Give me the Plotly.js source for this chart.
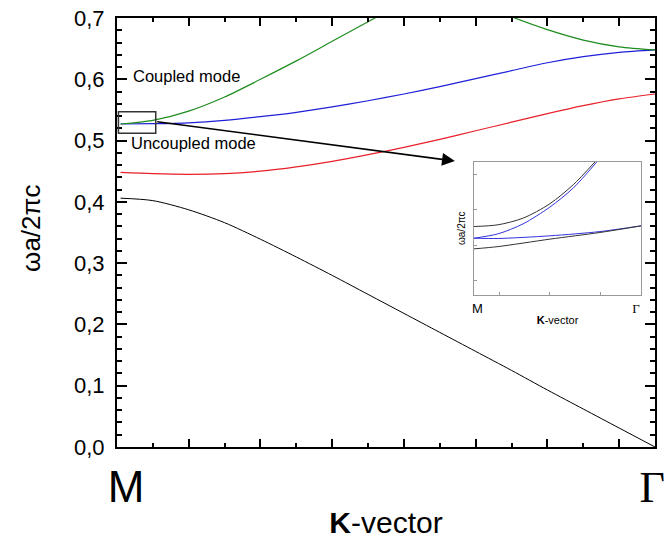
<!DOCTYPE html>
<html>
<head>
<meta charset="utf-8">
<script src="https://cdn.plot.ly/plotly-3.0.1.min.js"></script>
<style>html,body{margin:0;padding:0;background:#fff;}#chart{width:665px;height:542px;}</style>
</head>
<body>
<div id="chart"></div>
<script>
// ---- main band data (K from M=0 to Gamma=15, frequency omega a / 2 pi c) ----
const band1K = [0.1, 1, 2, 3, 4, 5, 6, 7, 8, 9, 10, 11, 12, 13, 14, 15];
const band1W = [0.406, 0.402, 0.387, 0.366, 0.339, 0.310, 0.280, 0.249, 0.218, 0.187, 0.156, 0.125, 0.093, 0.062, 0.031, 0.0];

const redK = [0.1, 1, 2, 3, 4, 5, 6, 7, 8, 9, 10, 11, 12, 13, 14, 15];
const redW = [0.448, 0.446, 0.445, 0.446, 0.450, 0.457, 0.466, 0.477, 0.489, 0.502, 0.516, 0.530, 0.544, 0.557, 0.568, 0.576];

const blueK = [0.1, 1, 2, 3, 4, 5, 6, 7, 8, 9, 10, 11, 12, 13, 14, 15];
const blueW = [0.527, 0.5275, 0.529, 0.533, 0.539, 0.546, 0.555, 0.565, 0.576, 0.588, 0.601, 0.614, 0.627, 0.637, 0.644, 0.648];

const greenK = [0.1, 1, 2, 3, 4, 5, 6, 7, 8, null, 10.5, 11, 12, 13, 14, 15];
const greenW = [0.527, 0.533, 0.548, 0.571, 0.600, 0.630, 0.662, 0.694, 0.726, null, 0.714, 0.702, 0.681, 0.664, 0.653, 0.648];

// ---- inset data (normalised units) ----
const insBlackUpK = [0, 0.144, 0.294, 0.454, 0.594, 0.724];
const insBlackUpW = [0.515, 0.528, 0.578, 0.686, 0.829, 1.0];
const insBlueUpK = [0, 0.144, 0.294, 0.454, 0.594, 0.735];
const insBlueUpW = [0.427, 0.460, 0.535, 0.661, 0.804, 1.0];
const insBlueLowK = [0, 0.144, 0.454, 0.754, 1];
const insBlueLowW = [0.427, 0.425, 0.445, 0.477, 0.52];
const insBlackLowK = [0, 0.144, 0.454, 0.754, 1];
const insBlackLowW = [0.347, 0.364, 0.420, 0.470, 0.52];

// ---- labels ----
const kTickVals = [0.25, 14.92];
const kTickText = ['M', '<span style="font-family:\'Liberation Serif\',serif">Γ</span>'];
const insTickVals = [0.02, 0.97];
const yTitle = 'ωa/2πc';
const xTitle = '<b>K</b>-vector';
const noteCoupled = 'Coupled mode';
const noteUncoupled = 'Uncoupled mode';

const F = 'Liberation Sans, Arial, sans-serif';

function line(x, y, color, w, xa, ya) {
  return {x: x, y: y, type: 'scatter', mode: 'lines', xaxis: xa || 'x', yaxis: ya || 'y',
    line: {color: color, width: w, shape: 'spline', smoothing: 0.8}, hoverinfo: 'skip', showlegend: false, connectgaps: false};
}

const traces = [
  line(band1K, band1W, '#000000', 1),
  line(redK, redW, '#e8202a', 1.2),
  line(blueK, blueW, '#1f1fd8', 1.2),
  line(greenK, greenW, '#1e8c1e', 1.2),
  line(insBlackUpK, insBlackUpW, '#333333', 1, 'x2', 'y2'),
  line(insBlueUpK, insBlueUpW, '#3333dd', 1, 'x2', 'y2'),
  line(insBlueLowK, insBlueLowW, '#3333dd', 1, 'x2', 'y2'),
  line(insBlackLowK, insBlackLowW, '#333333', 1, 'x2', 'y2'),
  {x: [], y: [], type: 'scatter', xaxis: 'x3', yaxis: 'y', showlegend: false, hoverinfo: 'skip'}
];

const layout = {
  width: 665, height: 542,
  margin: {l: 117, r: 10, t: 18, b: 95},
  paper_bgcolor: '#fff', plot_bgcolor: '#fff',
  separators: ', ',
  font: {family: F, color: '#000'},
  showlegend: false,
  xaxis: {
    range: [0, 15], tickmode: 'linear', tick0: 0, dtick: 2,
    ticks: 'inside', ticklen: 8, tickwidth: 2, tickcolor: '#000',
    minor: {tickmode: 'linear', tick0: 0, dtick: 1, ticks: 'inside', ticklen: 4, tickwidth: 2, tickcolor: '#000', showgrid: false},
    showticklabels: false, showgrid: false, zeroline: false,
    showline: true, linewidth: 2, linecolor: '#000', mirror: 'ticks', automargin: false
  },
  xaxis3: {
    overlaying: 'x', anchor: 'y', side: 'bottom', range: [0, 15],
    tickmode: 'array', tickvals: kTickVals, ticktext: kTickText, ticks: '',
    tickfont: {family: F, size: 44, color: '#000'}, ticklabelstandoff: 10, ticklabeloverflow: 'allow',
    showgrid: false, zeroline: false, showline: false, automargin: false,
    title: {text: xTitle, font: {family: F, size: 30, color: '#000'}, standoff: 0}
  },
  yaxis: {
    range: [0, 0.7], tickmode: 'linear', tick0: 0, dtick: 0.1, tickformat: '.1f',
    ticks: 'inside', ticklen: 10, tickwidth: 2, tickcolor: '#000',
    minor: {tickmode: 'linear', tick0: 0, dtick: 0.02, ticks: 'inside', ticklen: 5, tickwidth: 2, tickcolor: '#000', showgrid: false},
    tickfont: {family: F, size: 22, color: '#000'}, ticklabelstandoff: 6,
    showgrid: false, zeroline: false,
    showline: true, linewidth: 2, linecolor: '#000', mirror: 'ticks', automargin: false
  },
  xaxis2: {
    domain: [0.6636, 0.974], anchor: 'y2', range: [0, 1],
    tickmode: 'array', tickvals: insTickVals, ticktext: kTickText, ticks: '',
    minor: {tickmode: 'linear', tick0: 0.15, dtick: 0.305, ticks: 'inside', ticklen: 3, tickwidth: 1, tickcolor: '#999', showgrid: false},
    tickfont: {family: F, size: 13, color: '#000'}, ticklabelstandoff: 1, ticklabeloverflow: 'allow',
    showgrid: false, zeroline: false, showline: true, linewidth: 1, linecolor: '#999', mirror: true, automargin: false,
    title: {text: xTitle, font: {family: F, size: 11, color: '#000'}, standoff: 1}
  },
  yaxis2: {
    domain: [0.3543, 0.6643], anchor: 'x2', range: [0, 1],
    showticklabels: false, ticks: '',
    minor: {tickmode: 'linear', tick0: 0.11, dtick: 0.265, ticks: 'inside', ticklen: 3, tickwidth: 1, tickcolor: '#999', showgrid: false},
    showgrid: false, zeroline: false, showline: true, linewidth: 1, linecolor: '#999', mirror: true, automargin: false
  },
  shapes: [
    {type: 'rect', xref: 'x', yref: 'y', x0: 0.04, x1: 1.08, y0: 0.512, y1: 0.547, line: {color: '#333', width: 1.5}}
  ],
  annotations: [
    {xref: 'paper', yref: 'paper', x: -0.160, y: 0.5105, xanchor: 'center', yanchor: 'middle', textangle: -90,
     text: yTitle, showarrow: false, font: {family: F, size: 26, color: '#000'}},
    {xref: 'paper', yref: 'paper', x: 0.6413, y: 0.5105, xanchor: 'center', yanchor: 'middle', textangle: -90,
     text: yTitle, showarrow: false, font: {family: F, size: 10, color: '#000'}},
    {xref: 'x', yref: 'y', x: 0.38, y: 0.605, xanchor: 'left', yanchor: 'middle', text: noteCoupled, showarrow: false, font: {family: F, size: 16.5, color: '#000'}},
    {xref: 'x', yref: 'y', x: 0.34, y: 0.496, xanchor: 'left', yanchor: 'middle', text: noteUncoupled, showarrow: false, font: {family: F, size: 16.5, color: '#000'}},
    {xref: 'x', yref: 'y', x: 9.42, y: 0.4666, axref: 'x', ayref: 'y', ax: 1.08, ay: 0.531, text: '', showarrow: true,
     arrowhead: 2, arrowsize: 1.6, arrowwidth: 1.6, arrowcolor: '#000'}
  ]
};

Plotly.newPlot('chart', traces, layout, {staticPlot: true, displayModeBar: false});
</script>
</body>
</html>
